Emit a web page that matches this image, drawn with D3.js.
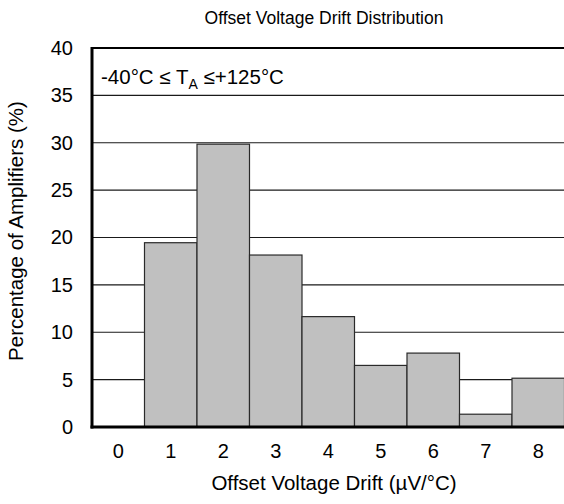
<!DOCTYPE html>
<html>
<head>
<meta charset="utf-8">
<script src="https://cdn.jsdelivr.net/npm/d3@7"></script>
<style>
  html, body { margin: 0; padding: 0; background: #fff; }
  svg { display: block; font-family: "Liberation Sans", Arial, sans-serif; }
</style>
</head>
<body>
<svg id="chart" width="564" height="504"></svg>
<script>
const categories = ["0", "1", "2", "3", "4", "5", "6", "7", "8"];
const percentages = [0, 19.45, 29.85, 18.15, 11.65, 6.5, 7.8, 1.35, 5.15];
const yTicks = [0, 5, 10, 15, 20, 25, 30, 35, 40];

(function () {
const svg = d3.select("#chart");
const pLeft = 92, pRight = 564.5, pTop = 48, pBottom = 427;
const fs = 20;
const fsTitle = 20.5;

const x = d3.scaleBand().domain(categories).range([pLeft, pRight]).padding(0);
const y = d3.scaleLinear().domain([0, 40]).range([pBottom, pTop]);

// gridlines
svg.append("g")
  .selectAll("line")
  .data(yTicks.filter(t => t > 0 && t < 40))
  .join("line")
  .attr("x1", pLeft).attr("x2", pRight)
  .attr("y1", d => y(d)).attr("y2", d => y(d))
  .attr("stroke", "#1a1a1a").attr("stroke-width", 1.2);

// top border
svg.append("line")
  .attr("x1", pLeft).attr("x2", pRight)
  .attr("y1", y(40)).attr("y2", y(40))
  .attr("stroke", "#000").attr("stroke-width", 2);

// bars
svg.append("g")
  .selectAll("rect")
  .data(categories.map((c, i) => ({ c, v: percentages[i] })).filter(d => d.v > 0))
  .join("rect")
  .attr("x", d => x(d.c))
  .attr("width", x.bandwidth())
  .attr("y", d => y(d.v))
  .attr("height", d => y(0) - y(d.v))
  .attr("fill", "#c0c0c0")
  .attr("stroke", "#2a2a2a")
  .attr("stroke-width", 1.2);

// axes
const yAxis = d3.axisLeft(y).tickValues(yTicks).tickSize(0).tickPadding(19);
const gy = svg.append("g").attr("transform", `translate(${pLeft},0)`).call(yAxis);
gy.select(".domain").remove();
gy.selectAll("text").attr("font-size", fs).attr("fill", "#000")
  .attr("font-family", "Liberation Sans, Arial, sans-serif");

const xAxis = d3.axisBottom(x).tickSize(0).tickPadding(17);
const gx = svg.append("g").attr("transform", `translate(0,${pBottom})`).call(xAxis);
gx.select(".domain").remove();
gx.selectAll("text").attr("font-size", fs).attr("fill", "#000")
  .attr("font-family", "Liberation Sans, Arial, sans-serif");

// axis lines
svg.append("line")
  .attr("x1", pLeft).attr("x2", pLeft)
  .attr("y1", y(40) - 1).attr("y2", pBottom + 1.5)
  .attr("stroke", "#000").attr("stroke-width", 3);
svg.append("line")
  .attr("x1", pLeft - 1.5).attr("x2", pRight)
  .attr("y1", pBottom).attr("y2", pBottom)
  .attr("stroke", "#000").attr("stroke-width", 3);

// title
svg.append("text")
  .attr("x", 324).attr("y", 24)
  .attr("text-anchor", "middle")
  .attr("font-size", 17.5)
  .text("Offset Voltage Drift Distribution");

// x title
svg.append("text")
  .attr("x", 334).attr("y", 490)
  .attr("text-anchor", "middle")
  .attr("font-size", fsTitle)
  .text("Offset Voltage Drift (µV/°C)");

// y title
svg.append("text")
  .attr("transform", `translate(23,231) rotate(-90)`)
  .attr("text-anchor", "middle")
  .attr("font-size", fsTitle)
  .text("Percentage of Amplifiers (%)");

// annotation
const ann = svg.append("text")
  .attr("x", 101).attr("y", 84)
  .attr("font-size", fsTitle);
ann.append("tspan").text("-40°C ≤ T");
ann.append("tspan").attr("font-size", 14).attr("dy", 5).text("A");
ann.append("tspan").attr("dy", -5).text(" ≤+125°C");
})();
</script>
</body>
</html>
